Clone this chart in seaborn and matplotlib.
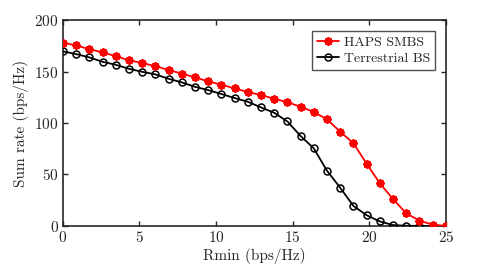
import numpy as np
import pandas as pd
import matplotlib
matplotlib.use("Agg")
import matplotlib.pyplot as plt
import seaborn as sns

rmin = [0.0, 0.86, 1.72, 2.59, 3.45, 4.31, 5.17, 6.03, 6.90, 7.76,
        8.62, 9.48, 10.34, 11.21, 12.07, 12.93, 13.79, 14.66, 15.52, 16.38,
        17.24, 18.10, 18.97, 19.83, 20.69, 21.55, 22.41, 23.28, 24.14, 25.0]
haps = [178, 175.4, 171.8, 168.6, 165, 161, 158.3, 155.3, 151.5, 148,
        144.4, 140.5, 137.2, 133.7, 130.1, 127.2, 123.6, 120.2, 115.8, 110.7,
        103.6, 91.6, 80.3, 60.5, 41.5, 26.2, 12.3, 5.1, 1.3, 0]
terr = [169.6, 167, 163.8, 159.5, 156.6, 152.7, 149.8, 147.3, 143, 139.5,
        135.2, 132, 128.2, 124.3, 120.7, 115.2, 110, 101.5, 87.4, 75.4,
        53.7, 37.2, 19.4, 10.4, 4.4, 0.8, 0.2, 0, 0, 0]
labels = ["HAPS SMBS", "Terrestrial BS"]

sns.set_theme(style="white")
plt.rcParams['font.family'] = ['cmr10', 'DejaVu Serif']
plt.rcParams['mathtext.fontset'] = 'cm'
plt.rcParams['axes.formatter.use_mathtext'] = True

fig = plt.figure(figsize=(4.91, 2.68), dpi=100)
ax = fig.add_axes([0.128, 0.157, 0.780, 0.768])

tc = '#262626'
sns.lineplot(x=rmin, y=haps, ax=ax, color='red', marker=(8, 2, 0), markersize=6,
             markeredgecolor='red', markeredgewidth=1.4, linewidth=1.3,
             label=labels[0], zorder=4)
sns.lineplot(x=rmin, y=terr, ax=ax, color='black', marker='o', markersize=5,
             markerfacecolor='none', markeredgecolor='black', markeredgewidth=1.1,
             linewidth=1.3, label=labels[1], zorder=3)

ax.set_xlim(0, 25)
ax.set_ylim(0, 200)
ax.set_xticks([0, 5, 10, 15, 20, 25])
ax.set_yticks([0, 50, 100, 150, 200])
ax.set_xlabel("Rmin (bps/Hz)", fontsize=11, color=tc, labelpad=2)
ax.set_ylabel("Sum rate (bps/Hz)", fontsize=11, color=tc, labelpad=4)
ax.tick_params(direction='in', length=3.5, width=1.0, colors=tc, labelsize=11,
               top=True, right=True, bottom=True, left=True, pad=3)
ax.tick_params(axis='both', labelcolor=tc)
for s in ax.spines.values():
    s.set_color(tc)
    s.set_linewidth(1.2)

leg = ax.legend(loc='upper right', fontsize=10, frameon=True, fancybox=False,
                edgecolor=tc, borderpad=0.35, labelspacing=0.25, handlelength=1.6,
                handletextpad=0.3, borderaxespad=0.8)
leg.get_frame().set_linewidth(1.0)
for t in leg.get_texts():
    t.set_color(tc)

fig.savefig("out.png", dpi=100)
